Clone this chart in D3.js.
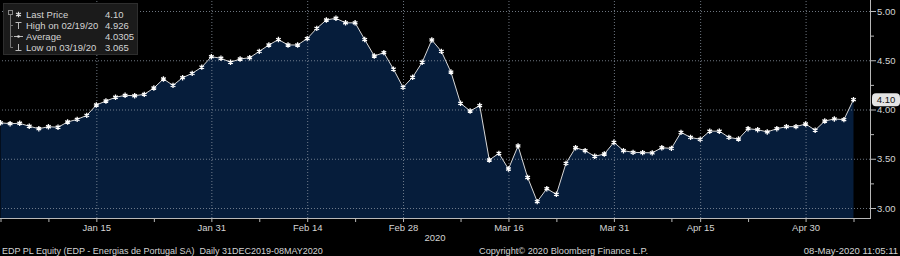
<!DOCTYPE html>
<html>
<head>
<meta charset="utf-8">
<script src="https://cdn.jsdelivr.net/npm/d3@7"></script>
<style>
    html, body { margin: 0; padding: 0; background: #000; }
    svg { display: block; }
    text { font-family: "Liberation Sans", Arial, sans-serif; font-size: 9.5px; fill: #d4d4d4; white-space: pre; }
</style>
</head>
<body>
<div id="chart"></div>
<script>
// Trading days shown on the chart
const dates = [
    '2019-12-31',
    '2020-01-02', '2020-01-03', '2020-01-06', '2020-01-07', '2020-01-08', '2020-01-09', '2020-01-10',
    '2020-01-13', '2020-01-14', '2020-01-15', '2020-01-16', '2020-01-17', '2020-01-20', '2020-01-21',
    '2020-01-22', '2020-01-23', '2020-01-24', '2020-01-27', '2020-01-28', '2020-01-29', '2020-01-30', '2020-01-31',
    '2020-02-03', '2020-02-04', '2020-02-05', '2020-02-06', '2020-02-07', '2020-02-10', '2020-02-11',
    '2020-02-12', '2020-02-13', '2020-02-14', '2020-02-17', '2020-02-18', '2020-02-19', '2020-02-20',
    '2020-02-21', '2020-02-24', '2020-02-25', '2020-02-26', '2020-02-27', '2020-02-28',
    '2020-03-02', '2020-03-03', '2020-03-04', '2020-03-05', '2020-03-06', '2020-03-09', '2020-03-10',
    '2020-03-11', '2020-03-12', '2020-03-13', '2020-03-16', '2020-03-17', '2020-03-18', '2020-03-19',
    '2020-03-20', '2020-03-23', '2020-03-24', '2020-03-25', '2020-03-26', '2020-03-27', '2020-03-30', '2020-03-31',
    '2020-04-01', '2020-04-02', '2020-04-03', '2020-04-06', '2020-04-07', '2020-04-08', '2020-04-09',
    '2020-04-14', '2020-04-15', '2020-04-16', '2020-04-17', '2020-04-20', '2020-04-21', '2020-04-22',
    '2020-04-23', '2020-04-24', '2020-04-27', '2020-04-28', '2020-04-29', '2020-04-30',
    '2020-05-04', '2020-05-05', '2020-05-06', '2020-05-07', '2020-05-08'
];

// Last price per day
const prices = [
    3.865,
    3.856, 3.860, 3.830, 3.805, 3.825, 3.820, 3.873, 3.900, 3.940, 4.046, 4.086, 4.124, 4.144, 4.140,
    4.154, 4.218, 4.310, 4.245, 4.323, 4.367, 4.430, 4.536,
    4.520, 4.480, 4.513, 4.526, 4.590, 4.655, 4.710, 4.655, 4.655, 4.720, 4.824, 4.909, 4.926, 4.880,
    4.880, 4.710, 4.543, 4.577, 4.410, 4.225,
    4.327, 4.480, 4.706, 4.590, 4.380, 4.063, 3.985, 4.040, 3.487, 3.555, 3.396, 3.630, 3.310, 3.065,
    3.196, 3.139, 3.453, 3.612, 3.582, 3.525, 3.548, 3.667,
    3.582, 3.565, 3.562, 3.560, 3.612, 3.605, 3.768, 3.717, 3.697, 3.780, 3.780, 3.717, 3.700, 3.805,
    3.795, 3.772, 3.805, 3.826, 3.826, 3.853,
    3.790, 3.883, 3.904, 3.897, 4.100
];

// Axis ticks
const xTickDates = ['2020-01-15', '2020-01-31', '2020-02-14', '2020-02-28', '2020-03-16', '2020-03-31', '2020-04-15', '2020-04-30'];
const xTickLabels = ['Jan 15', 'Jan 31', 'Feb 14', 'Feb 28', 'Mar 16', 'Mar 31', 'Apr 15', 'Apr 30'];
const xMinorDates = ['2019-12-31', '2020-01-08', '2020-01-23', '2020-02-07', '2020-02-21', '2020-03-09', '2020-03-23', '2020-04-08', '2020-04-22', '2020-05-08'];
const yTickValues = [3.00, 3.50, 4.00, 4.50, 5.00];
const yMinorValues = [3.25, 3.75, 4.25, 4.75];
const yearLabel = '2020';

// Legend and footer texts
const legendLabels = ['Last Price', 'High on 02/19/20', 'Average', 'Low on 03/19/20'];
const legendValues = ['4.10', '4.926', '4.0305', '3.065'];
const lastPriceLabel = '4.10';
const footerLeft = 'EDP PL Equity (EDP - Energias de Portugal SA)  Daily 31DEC2019-08MAY2020';
const footerMid = 'Copyright\u00A9 2020 Bloomberg Finance L.P.';
const footerRight = '08-May-2020 11:05:11';

// Layout
const width = 900, height = 256;
const plot = {left: 0, right: 870, top: 0, bottom: 218};
const gridColor = '#8a93a0';

const svg = d3.select('#chart')
    .append('svg')
    .attr('width', width)
    .attr('height', height);

// Scales
const x = d3.scaleLinear().domain([0, dates.length - 1]).range([0.5, 853.5]);
const y = d3.scaleLinear().domain([3, 5]).range([208, 11]);

const majorIdx = xTickDates.map(d => dates.indexOf(d));
const minorIdx = xMinorDates.map(d => dates.indexOf(d));

// Area under the price line
const area = d3.area()
    .x((d, i) => x(i))
    .y0(plot.bottom)
    .y1(d => y(d));

const line = d3.line()
    .x((d, i) => x(i))
    .y(d => y(d));

svg.append('path')
    .attr('d', area(prices))
    .attr('fill', '#061d3b');

// Gridlines
const xGrid = svg.append('g')
    .attr('transform', 'translate(0,' + plot.bottom + ')')
    .call(d3.axisBottom(x).tickValues(majorIdx).tickSize(-(plot.bottom - plot.top)).tickFormat(''));
const yGrid = svg.append('g')
    .attr('transform', 'translate(' + plot.right + ',0)')
    .call(d3.axisLeft(y).tickValues(yTickValues).tickSize(plot.right - plot.left).tickFormat(''));
[xGrid, yGrid].forEach(g => {
    g.select('.domain').remove();
    g.selectAll('line')
        .attr('stroke', gridColor)
        .attr('stroke-opacity', 0.8)
        .attr('stroke-dasharray', '1,2');
});

// Price line and markers
svg.append('path')
    .attr('d', line(prices))
    .attr('fill', 'none')
    .attr('stroke', '#d8d8d8')
    .attr('stroke-width', 1);

svg.append('g')
    .selectAll('path')
    .data(prices)
    .enter()
    .append('path')
    .attr('transform', (d, i) => 'translate(' + x(i) + ',' + y(d) + ')')
    .attr('d', d3.symbol(d3.symbolAsterisk, 20))
    .attr('fill', 'none')
    .attr('stroke', '#ffffff')
    .attr('stroke-width', 1.3);

// Axis frame
svg.append('line')
    .attr('x1', plot.left).attr('x2', plot.right)
    .attr('y1', plot.bottom + 0.5).attr('y2', plot.bottom + 0.5)
    .attr('stroke', '#b8b8b8');
svg.append('line')
    .attr('x1', plot.right + 0.5).attr('x2', plot.right + 0.5)
    .attr('y1', plot.top).attr('y2', plot.bottom + 1)
    .attr('stroke', '#b8b8b8');

// X axis
const xAxis = svg.append('g')
    .attr('transform', 'translate(0,' + (plot.bottom + 1) + ')')
    .call(d3.axisBottom(x).tickValues(majorIdx).tickFormat((d, i) => xTickLabels[i]).tickSize(3).tickPadding(2));
const xMinor = svg.append('g')
    .attr('transform', 'translate(0,' + (plot.bottom + 1) + ')')
    .call(d3.axisBottom(x).tickValues(minorIdx).tickFormat('').tickSize(3));

// Y axis
const yAxis = svg.append('g')
    .attr('transform', 'translate(' + (plot.right + 1) + ',0)')
    .call(d3.axisRight(y).tickValues(yTickValues).tickFormat(d3.format('.2f')).tickSize(5).tickPadding(1));
const yMinor = svg.append('g')
    .attr('transform', 'translate(' + (plot.right + 1) + ',0)')
    .call(d3.axisRight(y).tickValues(yMinorValues).tickFormat('').tickSize(3));

[xAxis, xMinor, yAxis, yMinor].forEach(g => {
    g.select('.domain').remove();
    g.selectAll('line').attr('stroke', '#b8b8b8');
    g.selectAll('text').attr('fill', '#d4d4d4').style('font-size', '9.5px').attr('font-family', null);
});

// Last price tag
const tagY = y(prices[prices.length - 1]);
svg.append('rect')
    .attr('x', plot.right + 2)
    .attr('y', tagY - 6.5)
    .attr('width', 28)
    .attr('height', 13)
    .attr('rx', 4)
    .attr('fill', '#e4e4e4');
svg.append('text')
    .attr('x', plot.right + 16)
    .attr('y', tagY)
    .attr('dy', '0.35em')
    .attr('text-anchor', 'middle')
    .style('fill', '#111')
    .text(lastPriceLabel);

// Year label
svg.append('text')
    .attr('x', (plot.left + plot.right) / 2)
    .attr('y', 241)
    .attr('text-anchor', 'middle')
    .text(yearLabel);

// Legend box
const legend = svg.append('g');
legend.append('rect')
    .attr('x', 3.5).attr('y', 3.5)
    .attr('width', 134).attr('height', 51)
    .attr('fill', '#1b1b1b')
    .attr('stroke', '#2e2e2e');
legend.append('rect')
    .attr('x', 8.5).attr('y', 10.5)
    .attr('width', 4).attr('height', 4)
    .attr('fill', 'none')
    .attr('stroke', '#888');
legend.append('path')
    .attr('d', 'M10.5,15 V47.5 M10.5,25.5 H13 M10.5,36.5 H13 M10.5,47.5 H13')
    .attr('fill', 'none')
    .attr('stroke', '#777');

legendLabels.forEach((label, i) => {
    const ry = 14.5 + i * 11;
    legend.append('text')
        .attr('x', 26)
        .attr('y', ry)
        .attr('dy', '0.35em')
        .text(label);
    legend.append('text')
        .attr('x', 105)
        .attr('y', ry)
        .attr('dy', '0.35em')
        .text(legendValues[i]);
});

// Legend symbols
legend.append('path')
    .attr('transform', 'translate(18.5,14.5)')
    .attr('d', d3.symbol(d3.symbolAsterisk, 22))
    .attr('fill', 'none')
    .attr('stroke', '#e0e0e0')
    .attr('stroke-width', 1.2);
legend.append('path')
    .attr('d', 'M15.5,22.5 H21.5 M18.5,22.5 V29')
    .attr('fill', 'none')
    .attr('stroke', '#bbb');
legend.append('path')
    .attr('d', 'M14,36.5 H23')
    .attr('fill', 'none')
    .attr('stroke', '#bbb');
legend.append('circle')
    .attr('cx', 18.5).attr('cy', 36.5).attr('r', 1.3)
    .attr('fill', '#ddd');
legend.append('path')
    .attr('d', 'M18.5,44 V50.5 M15.5,50.5 H21.5')
    .attr('fill', 'none')
    .attr('stroke', '#bbb');

// Footer texts
svg.append('text')
    .attr('x', 2)
    .attr('y', 253.5)
    .style('font-size', '9px')
    .text(footerLeft);
svg.append('text')
    .attr('x', 479)
    .attr('y', 253.5)
    .style('font-size', '9.2px')
    .text(footerMid);
svg.append('text')
    .attr('x', 898)
    .attr('y', 253.5)
    .attr('text-anchor', 'end')
    .text(footerRight);
</script>
</body>
</html>
